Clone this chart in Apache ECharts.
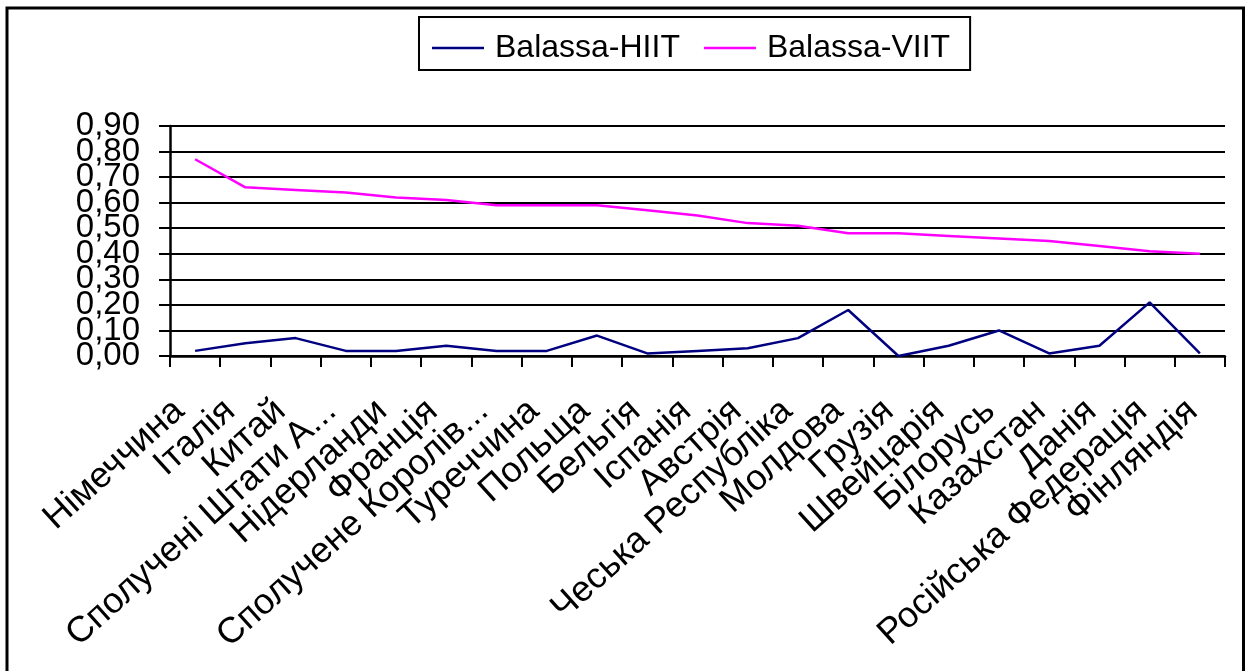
<!DOCTYPE html>
<html>
<head>
<meta charset="utf-8">
<script src="https://cdn.jsdelivr.net/npm/echarts@6/dist/echarts.min.js"></script>
<style>
html,body{margin:0;padding:0;background:#fff;}
#chart{width:1245px;height:671px;}
</style>
</head>
<body>
<div id="chart"></div>
<script>
const categories = ['Німеччина','Італія','Китай','Сполучені Штати А...','Нідерланди','Франція','Сполучене Королів...','Туреччина','Польща','Бельгія','Іспанія','Австрія','Чеська Республіка','Молдова','Грузія','Швейцарія','Білорусь','Казахстан','Данія','Російська Федерація','Фінляндія'];
const hiit = [0.02,0.05,0.07,0.02,0.02,0.04,0.02,0.02,0.08,0.01,0.02,0.03,0.07,0.18,0.00,0.04,0.10,0.01,0.04,0.21,0.01];
const viit = [0.77,0.66,0.65,0.64,0.62,0.61,0.59,0.59,0.59,0.57,0.55,0.52,0.51,0.48,0.48,0.47,0.46,0.45,0.43,0.41,0.40];
const seriesNames = ['Balassa-HIIT','Balassa-VIIT'];
const yTicks = {min:0, max:0.9, interval:0.1};

const FONT = 'Liberation Sans, Arial, sans-serif';
const fmt = v => v.toFixed(2).replace('.', ',');
const yLabelStyle = {margin:30,fontFamily:FONT,fontSize:33,color:'#000',showMinLabel:true,showMaxLabel:true,hideOverlap:false};
const chart = echarts.init(document.getElementById('chart'), null, {renderer:'canvas'});
chart.setOption({
  animation:false,
  backgroundColor:'#fff',
  graphic:[{type:'rect',shape:{x:7,y:8,width:1236.5,height:700},style:{fill:'none',stroke:'#000',lineWidth:3},z:100}],
  legend:{
    left:419, top:17,
    padding:[15,20,6,13],
    borderColor:'#000', borderWidth:2,
    itemWidth:52, itemHeight:14, itemGap:24,
    textStyle:{fontFamily:FONT,fontSize:32,color:'#000',padding:[0,0,0,6]},
    data:seriesNames.map(n=>({name:n,icon:'path://M0,0L52,0L52,2.5L0,2.5Z'}))
  },
  grid:[
    {left:170,right:20,top:126,bottom:315,containLabel:false},
    {left:154,width:1064,top:126,bottom:315,containLabel:false}
  ],
  xAxis:[
    {type:'category',gridIndex:0,data:categories,boundaryGap:true,
     axisLine:{lineStyle:{color:'#000',width:2.5}},
     axisTick:{show:true,length:11,inside:false,alignWithLabel:false,interval:0,lineStyle:{color:'#000',width:2}},
     axisLabel:{show:false},splitLine:{show:false}},
    {type:'category',gridIndex:1,data:categories,boundaryGap:true,
     axisLine:{show:false},axisTick:{show:false},splitLine:{show:false},
     axisLabel:{show:true,interval:0,rotate:42,margin:50,fontFamily:FONT,fontSize:36,color:'#000'}}
  ],
  yAxis:[
    {type:'value',gridIndex:0,min:yTicks.min,max:yTicks.max,interval:yTicks.interval,position:'left',
     axisLine:{show:true,lineStyle:{color:'#000',width:2.5}},
     axisTick:{show:true,length:11,lineStyle:{color:'#000',width:2}},
     splitLine:{show:true,lineStyle:{color:'#000',width:2.2}},
     axisLabel:Object.assign({}, yLabelStyle, {formatter:v => (Math.round(v*10) % 2 === 0 ? fmt(v) : '')})},
    {type:'value',gridIndex:0,min:yTicks.min,max:yTicks.max,interval:yTicks.interval,position:'left',offset:0,
     axisLine:{show:false},axisTick:{show:false},splitLine:{show:false},
     axisLabel:Object.assign({}, yLabelStyle, {formatter:v => (Math.round(v*10) % 2 === 1 ? fmt(v) : '')})},
    {type:'value',gridIndex:1,min:0,max:0.9,show:false}
  ],
  series:[
    {name:seriesNames[0],type:'line',xAxisIndex:0,yAxisIndex:0,data:hiit,symbol:'none',
     lineStyle:{color:'#000080',width:2.5},itemStyle:{color:'#000080'}},
    {name:seriesNames[1],type:'line',xAxisIndex:0,yAxisIndex:0,data:viit,symbol:'none',
     lineStyle:{color:'#FF00FF',width:2.5},itemStyle:{color:'#FF00FF'}}
  ]
});
</script>
</body>
</html>
